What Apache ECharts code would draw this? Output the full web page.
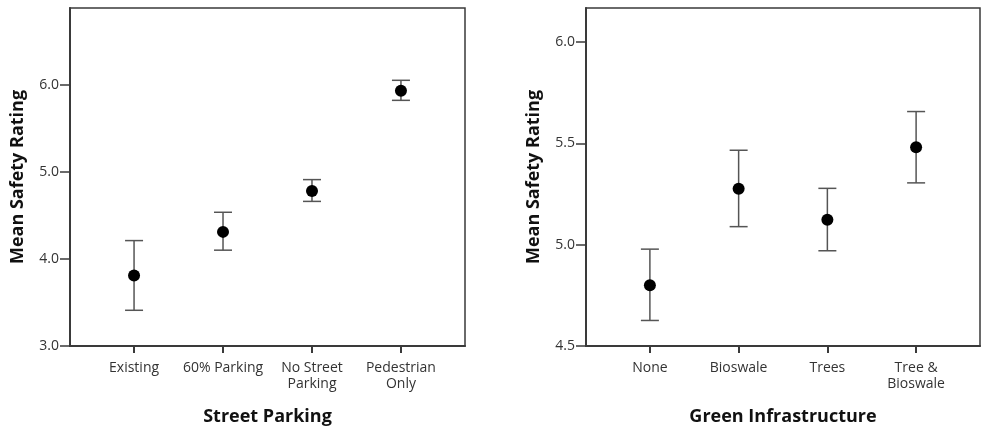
<!DOCTYPE html>
<html><head><meta charset="utf-8">
<script src="https://cdn.jsdelivr.net/npm/echarts@6/dist/echarts.min.js"></script>
<style>html,body{margin:0;padding:0;background:#fff}#c{width:981px;height:428px}</style>
</head><body><div id="c"></div>
<script>
const parkingCats = ['Existing', '60% Parking', 'No Street\nParking', 'Pedestrian\nOnly'];
const parkingMean = [3.81, 4.31, 4.78, 5.93];
const parkingLow  = [3.41, 4.10, 4.66, 5.82];
const parkingHigh = [4.21, 4.535, 4.91, 6.05];
const parkingTicks = [3, 4, 5, 6];

const greenCats = ['None', 'Bioswale', 'Trees', 'Tree &\nBioswale'];
const greenMean = [4.80, 5.276, 5.123, 5.481];
const greenLow  = [4.626, 5.089, 4.97, 5.305];
const greenHigh = [4.978, 5.466, 5.278, 5.657];
const greenTicks = [4.5, 5.0, 5.5, 6.0];

const FONT = 'Open Sans';
const positions = [1, 2, 3, 4];

function xAxisFor(idx, cats, name) {
  return {
    type: 'value', gridIndex: idx, min: 0.28, max: 4.72,
    name: name, nameLocation: 'middle', nameGap: 62,
    nameTextStyle: { fontFamily: FONT, fontWeight: 'bold', fontSize: 18, color: '#111' },
    splitLine: { show: false },
    axisLine: { show: true, lineStyle: { color: '#3a3a3a', width: 2 } },
    axisTick: { show: true, customValues: positions, length: 7, lineStyle: { color: '#3a3a3a', width: 2 } },
    axisLabel: { customValues: positions, formatter: v => cats[Math.round(v) - 1], fontFamily: FONT, fontSize: 14, color: '#333', lineHeight: 16, margin: 14 }
  };
}
function yAxisFor(idx, min, max, ticks, name) {
  return {
    type: 'value', gridIndex: idx, min: min, max: max,
    name: name, nameLocation: 'middle', nameGap: 43, nameRotate: 90,
    nameTextStyle: { fontFamily: FONT, fontWeight: 'bold', fontSize: 18, color: '#111' },
    splitLine: { show: false },
    axisLine: { show: true, lineStyle: { color: '#3a3a3a', width: 2 } },
    axisTick: { show: true, customValues: ticks, length: 10, lineStyle: { color: '#3a3a3a', width: 1.5 } },
    axisLabel: { customValues: ticks, formatter: v => v.toFixed(1), fontFamily: FONT, fontSize: 14, color: '#333', margin: 11 }
  };
}
function errSeries(idx, low, high) {
  return {
    type: 'custom', xAxisIndex: idx, yAxisIndex: idx,
    data: positions.map((p, i) => [p, low[i], high[i]]),
    renderItem: function (params, api) {
      const lo = api.coord([api.value(0), api.value(1)]);
      const hi = api.coord([api.value(0), api.value(2)]);
      const w = 9;
      const st = { stroke: '#555', lineWidth: 1.5, fill: null };
      return { type: 'group', children: [
        { type: 'line', shape: { x1: lo[0], y1: lo[1], x2: hi[0], y2: hi[1] }, style: st },
        { type: 'line', shape: { x1: lo[0] - w, y1: lo[1], x2: lo[0] + w, y2: lo[1] }, style: st },
        { type: 'line', shape: { x1: hi[0] - w, y1: hi[1], x2: hi[0] + w, y2: hi[1] }, style: st }
      ]};
    },
    silent: true, z: 2
  };
}
function meanSeries(idx, mean) {
  return {
    type: 'scatter', xAxisIndex: idx, yAxisIndex: idx,
    data: positions.map((p, i) => [p, mean[i]]),
    symbol: 'circle', symbolSize: 12, itemStyle: { color: '#000', opacity: 1 }, z: 3, silent: true
  };
}

const chart = echarts.init(document.getElementById('c'), null, { renderer: 'canvas' });
chart.setOption({
  animation: false,
  backgroundColor: '#fff',
  grid: [
    { left: 70, right: 516, top: 8, bottom: 82, outerBoundsMode: 'none', containLabel: false, show: true, borderColor: '#3a3a3a', borderWidth: 1.5, backgroundColor: 'transparent' },
    { left: 586, right: 1, top: 8, bottom: 82, outerBoundsMode: 'none', containLabel: false, show: true, borderColor: '#3a3a3a', borderWidth: 1.5, backgroundColor: 'transparent' }
  ],
  xAxis: [xAxisFor(0, parkingCats, 'Street Parking'), xAxisFor(1, greenCats, 'Green Infrastructure')],
  yAxis: [yAxisFor(0, 3, 6.88, parkingTicks, 'Mean Safety Rating'), yAxisFor(1, 4.5, 6.168, greenTicks, 'Mean Safety Rating')],
  series: [errSeries(0, parkingLow, parkingHigh), meanSeries(0, parkingMean), errSeries(1, greenLow, greenHigh), meanSeries(1, greenMean)]
});
</script></body></html>
